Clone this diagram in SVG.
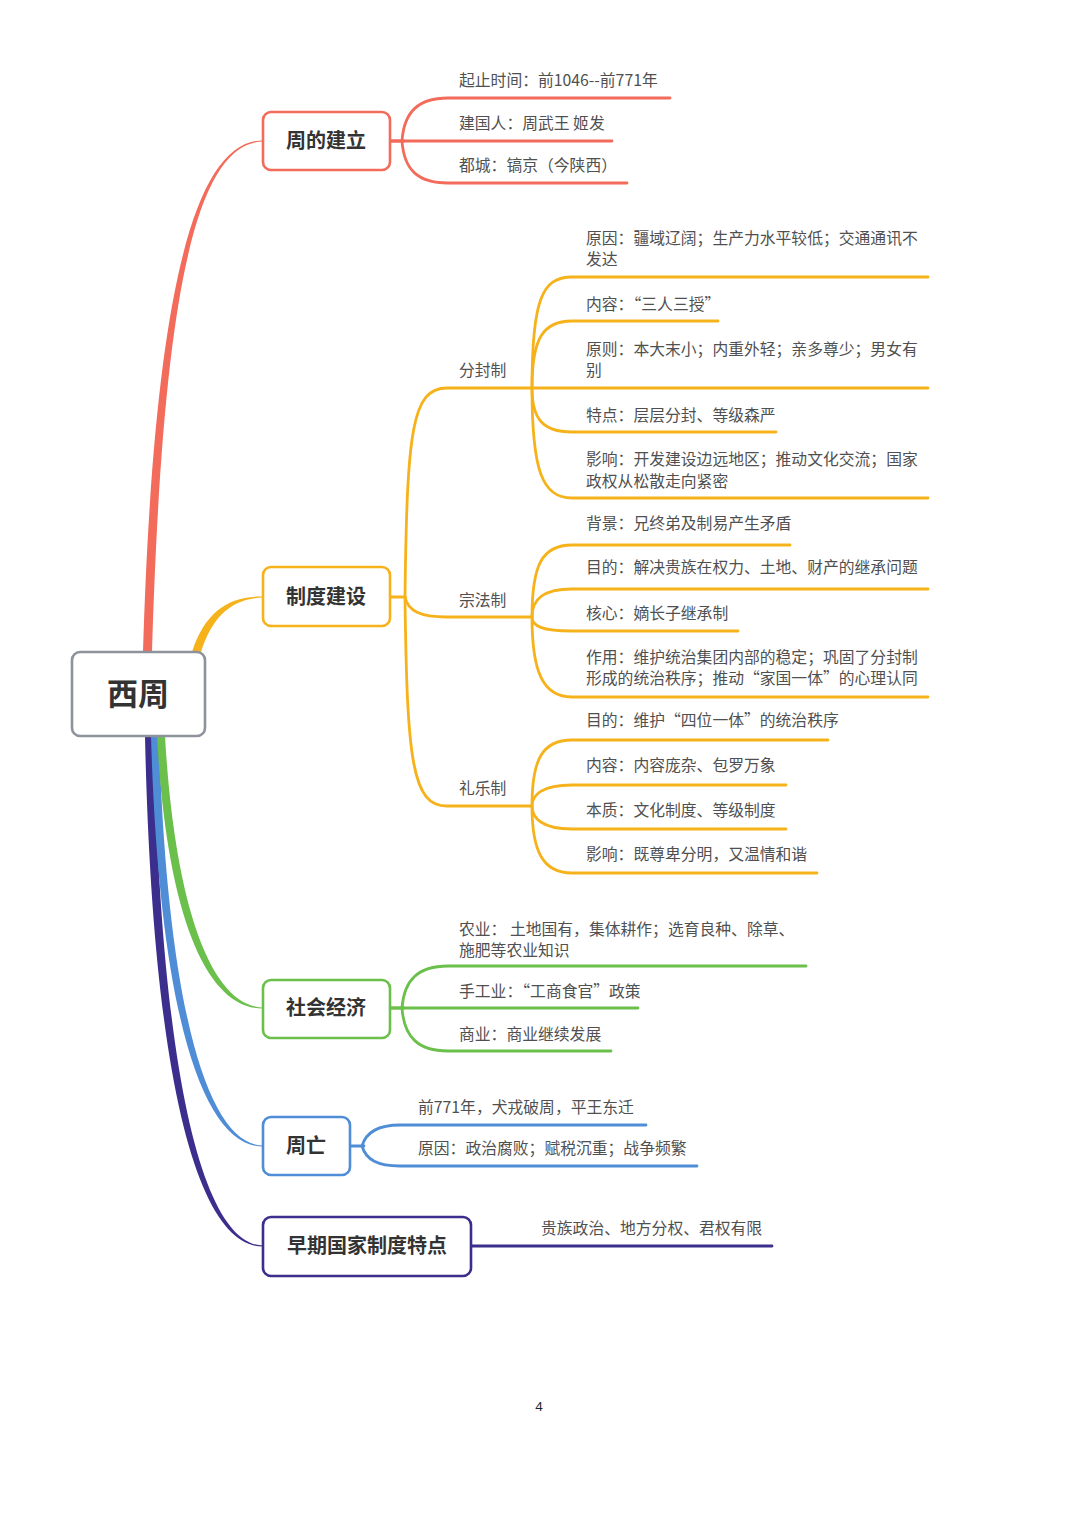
<svg xmlns="http://www.w3.org/2000/svg" width="1080" height="1527" viewBox="0 0 1080 1527">
<style>
.bg{fill:#ffffff}
.node{fill:#ffffff;stroke-width:2.6}
.ttl{font-family:"Noto Sans CJK SC","Noto Sans",sans-serif;font-weight:bold;font-size:20px;fill:#333333;text-anchor:middle}
.root{font-family:"Noto Sans CJK SC","Noto Sans",sans-serif;font-weight:bold;font-size:31px;fill:#333333;text-anchor:middle}
.leaf{font-family:"Noto Sans CJK SC","Noto Sans",sans-serif;font-size:15.8px;fill:#505050}
.ln{fill:none;stroke-width:2.8;stroke-linecap:round}
.red{stroke:#f26b5b}
.org{stroke:#f6b21b}
.grn{stroke:#6bbf4b}
.blu{stroke:#4f8dd6}
.pur{stroke:#3b2e8c}
</style>
<rect class="bg" x="0" y="0" width="1080" height="1527"/>

<g id="connectors">
  <!-- root to level-1 tapered ribbons -->
  <path d="M143,652 C153,320 189,139.5 263,140.5 L263,141.5 C191,142.5 162,320 152,652 Z" fill="#f26b5b"/>
  <path d="M192,652 C205,612 228,596 263,596.5 L263,597.5 C230,599 212,618 201,652 Z" fill="#f6b21b"/>
  <path d="M145,736 C153,1105 203,1247 263,1246.5 L263,1245.5 C207,1245 161,1095 154,736 Z" fill="#3b2e8c"/>
  <path d="M151,736 C159,1015 203,1147 263,1146.5 L263,1145.5 C207,1145 167,1005 159,736 Z" fill="#4f8dd6"/>
  <path d="M157,736 C166,905 203,1009 263,1008.5 L263,1007.5 C208,1006 174,895 165,736 Z" fill="#6bbf4b"/>

  <!-- 周的建立 -->
  <path class="ln red" d="M390,141 H404"/>
  <path class="ln red" d="M402,141 C404,112 418,98 448,98 H670"/>
  <path class="ln red" d="M390,141 H612"/>
  <path class="ln red" d="M402,141 C404,170 418,183 448,183 H627"/>

  <!-- 制度建设 -->
  <path class="ln org" d="M390,597 H405"/>
  <path class="ln org" d="M405,597 C407,430 412,388 447,388 H532"/>
  <path class="ln org" d="M405,597 C408,611 420,617 447,617 H532"/>
  <path class="ln org" d="M405,597 C407,760 412,806 447,806 H532"/>

  <!-- 分封制 -->
  <path class="ln org" d="M532,388 C532,300 542,277 572,277 H928"/>
  <path class="ln org" d="M532,388 C532,340 542,321 572,321 H718"/>
  <path class="ln org" d="M532,388 H928"/>
  <path class="ln org" d="M532,388 C532,418 542,432 572,432 H776"/>
  <path class="ln org" d="M532,388 C532,470 542,498 572,498 H928"/>

  <!-- 宗法制 -->
  <path class="ln org" d="M532,617 C532,565 542,545 572,545 H790"/>
  <path class="ln org" d="M532,617 C532,600 542,589 572,589 H928"/>
  <path class="ln org" d="M532,617 C532,626 542,631 572,631 H738"/>
  <path class="ln org" d="M532,617 C532,670 542,697 572,697 H928"/>

  <!-- 礼乐制 -->
  <path class="ln org" d="M532,806 C532,760 542,740 572,740 H828"/>
  <path class="ln org" d="M532,806 C532,795 542,785 572,785 H786"/>
  <path class="ln org" d="M532,806 C532,818 542,829 572,829 H786"/>
  <path class="ln org" d="M532,806 C532,850 542,873 572,873 H817"/>

  <!-- 社会经济 -->
  <path class="ln grn" d="M390,1008 H404"/>
  <path class="ln grn" d="M402,1008 C404,980 418,966 448,966 H806"/>
  <path class="ln grn" d="M390,1008 H638"/>
  <path class="ln grn" d="M402,1008 C404,1037 418,1051 448,1051 H611"/>

  <!-- 周亡 -->
  <path class="ln blu" d="M350,1146 H364"/>
  <path class="ln blu" d="M362,1146 C366,1132 378,1125 400,1125 H646"/>
  <path class="ln blu" d="M362,1146 C366,1160 378,1166 400,1166 H697"/>

  <!-- 早期国家制度特点 -->
  <path class="ln pur" d="M471,1246 H772"/>
</g>

<g id="root">
  <rect class="node" x="72" y="652" width="133" height="84" rx="8" stroke="#8d929c" stroke-width="3"/>
  <text class="root" x="138" y="705">西周</text>
</g>

<g id="n-jianli">
  <rect class="node" x="263" y="112" width="127" height="58" rx="8" stroke="#f26b5b"/>
  <text class="ttl" x="326" y="148">周的建立</text>
</g>
<g id="n-jianli-leaves">
  <text class="leaf" x="459" y="86">起止时间：前1046--前771年</text>
  <text class="leaf" x="459" y="129">建国人：周武王 姬发</text>
  <text class="leaf" x="459" y="171">都城：镐京（今陕西）</text>
</g>

<g id="n-zhidu">
  <rect class="node" x="263" y="567" width="127" height="59" rx="8" stroke="#f6b21b"/>
  <text class="ttl" x="326" y="604">制度建设</text>
</g>
<g id="n-fenfeng">
  <text class="leaf" x="459" y="376">分封制</text>
  <text class="leaf" x="586" y="244">原因：疆域辽阔；生产力水平较低；交通通讯不</text>
  <text class="leaf" x="586" y="265">发达</text>
  <text class="leaf" x="586" y="310">内容：“三人三授”</text>
  <text class="leaf" x="586" y="355">原则：本大末小；内重外轻；亲多尊少；男女有</text>
  <text class="leaf" x="586" y="376">别</text>
  <text class="leaf" x="586" y="421">特点：层层分封、等级森严</text>
  <text class="leaf" x="586" y="465">影响：开发建设边远地区；推动文化交流；国家</text>
  <text class="leaf" x="586" y="487">政权从松散走向紧密</text>
</g>
<g id="n-zongfa">
  <text class="leaf" x="459" y="606">宗法制</text>
  <text class="leaf" x="586" y="529">背景：兄终弟及制易产生矛盾</text>
  <text class="leaf" x="586" y="573">目的：解决贵族在权力、土地、财产的继承问题</text>
  <text class="leaf" x="586" y="619">核心：嫡长子继承制</text>
  <text class="leaf" x="586" y="663">作用：维护统治集团内部的稳定；巩固了分封制</text>
  <text class="leaf" x="586" y="684">形成的统治秩序；推动“家国一体”的心理认同</text>
</g>
<g id="n-liyue">
  <text class="leaf" x="459" y="794">礼乐制</text>
  <text class="leaf" x="586" y="726">目的：维护“四位一体”的统治秩序</text>
  <text class="leaf" x="586" y="771">内容：内容庞杂、包罗万象</text>
  <text class="leaf" x="586" y="816">本质：文化制度、等级制度</text>
  <text class="leaf" x="586" y="860">影响：既尊卑分明，又温情和谐</text>
</g>

<g id="n-jingji">
  <rect class="node" x="263" y="980" width="127" height="58" rx="8" stroke="#6bbf4b"/>
  <text class="ttl" x="326" y="1015">社会经济</text>
  <text class="leaf" x="459" y="935">农业： 土地国有，集体耕作；选育良种、除草、</text>
  <text class="leaf" x="459" y="956">施肥等农业知识</text>
  <text class="leaf" x="459" y="997">手工业：“工商食官”政策</text>
  <text class="leaf" x="459" y="1040">商业：商业继续发展</text>
</g>

<g id="n-zhouwang">
  <rect class="node" x="263" y="1117" width="87" height="58" rx="8" stroke="#4f8dd6"/>
  <text class="ttl" x="306" y="1153">周亡</text>
  <text class="leaf" x="418" y="1113">前771年，犬戎破周，平王东迁</text>
  <text class="leaf" x="418" y="1154">原因：政治腐败；赋税沉重；战争频繁</text>
</g>

<g id="n-tedian">
  <rect class="node" x="263" y="1217" width="208" height="59" rx="8" stroke="#3b2e8c"/>
  <text class="ttl" x="367" y="1253">早期国家制度特点</text>
  <text class="leaf" x="541" y="1234">贵族政治、地方分权、君权有限</text>
</g>

<text x="539" y="1411" font-family="'Noto Sans','DejaVu Sans',sans-serif" font-size="13" fill="#222222" text-anchor="middle">4</text>
</svg>
